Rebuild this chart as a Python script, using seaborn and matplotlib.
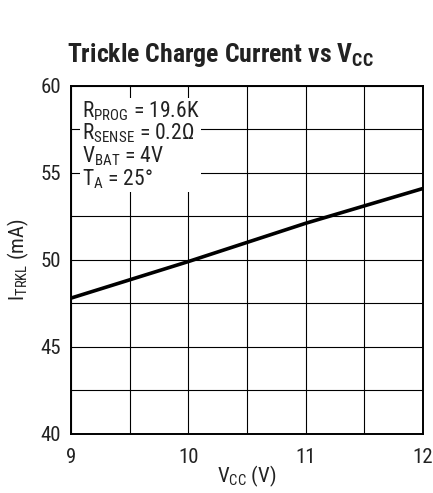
import pandas as pd
import matplotlib
matplotlib.use('Agg')
import matplotlib.pyplot as plt
from matplotlib import font_manager
import seaborn as sns

# data
vcc = [9.0, 10.0, 11.0, 12.0]
itrkl = [47.8, 49.9, 52.1, 54.1]
x_ticks = [9, 10, 11, 12]
y_ticks = [40, 45, 50, 55, 60]
note_lines = ['R$_{\\mathrm{PROG}}$ = 19.6K', 'R$_{\\mathrm{SENSE}}$ = 0.2Ω',
              'V$_{\\mathrm{BAT}}$ = 4V', 'T$_{\\mathrm{A}}$ = 25°']

sns.set_style('white')
names = {f.name for f in font_manager.fontManager.ttflist}
fam = 'Liberation Sans'
for cand in ['Liberation Sans Narrow', 'Roboto Condensed', 'Open Sans Condensed']:
    if cand in names:
        fam = cand
        break
plt.rcParams['font.family'] = [fam, 'DejaVu Sans']
plt.rcParams['mathtext.fontset'] = 'custom'
plt.rcParams['mathtext.rm'] = fam
plt.rcParams['mathtext.it'] = fam
plt.rcParams['mathtext.bf'] = fam + ':bold'

dados = pd.DataFrame({'vcc': vcc, 'itrkl': itrkl})

fig = plt.figure(figsize=(4.33, 4.93), dpi=100)
ax = fig.add_axes([0.164, 0.120, 0.813, 0.706])
sns.lineplot(data=dados, x='vcc', y='itrkl', color='black', linewidth=2.6, ax=ax)

ax.set_xlim(9, 12)
ax.set_ylim(40, 60)
ax.set_xticks(x_ticks)
ax.set_xticks([9.5, 10.5, 11.5], minor=True)
ax.set_yticks(y_ticks)
ax.set_yticks([42.5, 47.5, 52.5, 57.5], minor=True)
ax.grid(True, which='both', color='black', linewidth=0.8)
ax.tick_params(which='both', length=0, labelsize=15, colors='#222222')
ax.tick_params(axis='x', pad=10)
ax.tick_params(axis='y', pad=7)
for s in ax.spines.values():
    s.set_color('black')
    s.set_linewidth(1.4)

ax.set_xlabel('V$_{\\mathrm{CC}}$ (V)', fontsize=15, color='#222222', labelpad=-2)
ax.set_ylabel('I$_{\\mathrm{TRKL}}$ (mA)', fontsize=15, color='#222222', labelpad=7)
ax.set_title('Trickle Charge Current vs V$_{\\mathbf{CC}}$', fontsize=18.5,
             fontweight='bold', color='#222222', pad=17, x=0.425)

ax.text(0.03, 0.962, '\n'.join(note_lines), transform=ax.transAxes, va='top', ha='left',
        fontsize=15.5, color='#222222', linespacing=0.95, zorder=5,
        bbox=dict(facecolor='white', edgecolor='none', pad=1.0))

fig.savefig('out.png', dpi=100)
